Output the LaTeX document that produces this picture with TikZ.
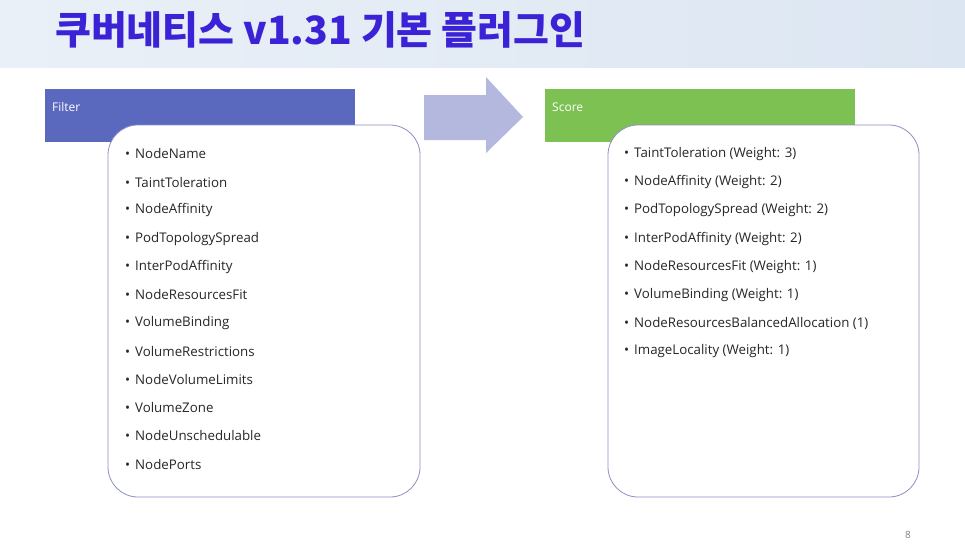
\documentclass[tikz,border=0pt]{standalone}
\usepackage{fontspec}
\setmainfont{Open Sans}
\newfontfamily\kr{Noto Sans CJK KR}
\definecolor{ttl}{HTML}{3B22D6}
\definecolor{fhead}{HTML}{5A68BE}
\definecolor{shead}{HTML}{7DC152}
\definecolor{bord}{HTML}{8C90C4}
\definecolor{arr}{HTML}{B4B8DE}
\definecolor{band}{HTML}{DCE6F2}
\begin{document}
\begin{tikzpicture}[x=1pt,y=-1pt,
  head/.style={anchor=north west,inner sep=0pt,minimum width=310pt,minimum height=53pt},
  htext/.style={anchor=west,text=white,font=\fontsize{12}{14}\selectfont,inner sep=0pt},
  box/.style={draw=bord,line width=0.8pt,fill=white,rounded corners=30pt},
  item/.style={anchor=west,font=\fontsize{13.3}{15}\selectfont,inner sep=0pt,text=black!85}]
\useasboundingbox (0,0) rectangle (965,549);
\fill[white] (0,0) rectangle (965,549);
\shade[left color=band!60,right color=band] (0,0) rectangle (965,67);
\node[anchor=west,text=ttl,font=\kr\bfseries\fontsize{39}{44}\selectfont,inner sep=0pt] (title) at (55,30) {쿠버네티스 v1.31 기본 플러그인};
% filter
\node[head,fill=fhead] (fh) at (45,89) {};
\node[htext] (ft) at (52,107) {Filter};
\draw[box] (108,125) rectangle (420,497);
\foreach \t [count=\i] in {NodeName,TaintToleration,NodeAffinity,PodTopologySpread,InterPodAffinity,NodeResourcesFit,VolumeBinding,VolumeRestrictions,NodeVolumeLimits,VolumeZone,NodeUnschedulable,NodePorts}
  \node[item] (f\i) at (125,{154+(\i-1)*28.2}) {•\hspace{5pt}\t};
% arrow
\fill[arr] (424,95) -- (486,95) -- (486,77) -- (523,117) -- (486,153) -- (486,140) -- (424,140) -- cycle;
% score
\node[head,fill=shead] (sh) at (545,89) {};
\node[htext] (st) at (552,107) {Score};
\draw[box] (608,125) rectangle (919,497);
\foreach \t [count=\i] in {TaintToleration (Weight: 3),NodeAffinity (Weight: 2),PodTopologySpread (Weight: 2),InterPodAffinity (Weight: 2),NodeResourcesFit (Weight: 1),VolumeBinding (Weight: 1),NodeResourcesBalancedAllocation (1),ImageLocality (Weight: 1)}
  \node[item] (s\i) at (624,{154+(\i-1)*28.2}) {•\hspace{5pt}\t};
\node[text=gray,font=\fontsize{10}{12}\selectfont] (pg) at (908,535) {8};
\end{tikzpicture}
\end{document}
